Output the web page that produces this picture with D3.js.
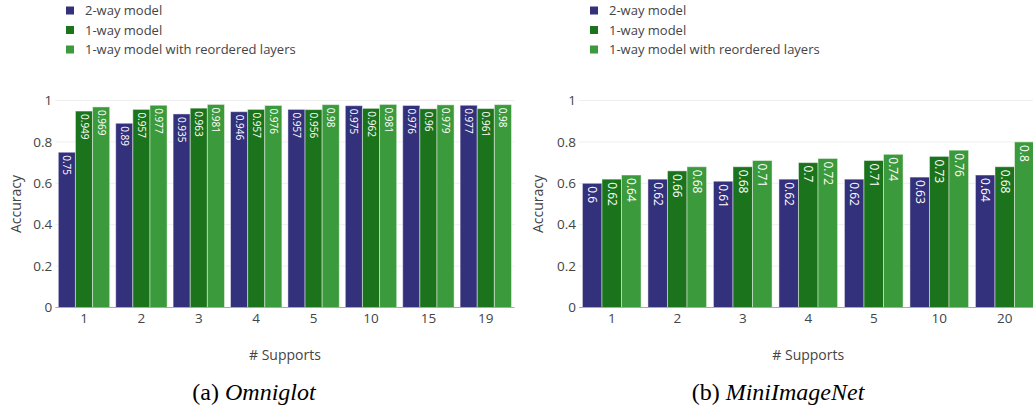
<!DOCTYPE html>
<html>
<head>
<meta charset="utf-8">
<script src="https://cdn.jsdelivr.net/npm/d3@7"></script>
<style>
  html, body { margin: 0; padding: 0; background: #fff; }
  svg { display: block; }
</style>
</head>
<body>
<svg id="chart" width="1033" height="406"></svg>
<script>
// Series names and colours
const seriesNames = ["2-way model", "1-way model", "1-way model with reordered layers"];
const seriesColors = ["#33307c", "#1b741b", "#3b9a3b"];

// Omniglot results
const omniSupports = ["1", "2", "3", "4", "5", "10", "15", "19"];
const omniTwoWay = [0.75, 0.89, 0.935, 0.946, 0.957, 0.975, 0.976, 0.977];
const omniOneWay = [0.949, 0.957, 0.963, 0.957, 0.956, 0.962, 0.96, 0.961];
const omniReordered = [0.969, 0.977, 0.981, 0.976, 0.98, 0.981, 0.979, 0.98];

// MiniImageNet results
const miniSupports = ["1", "2", "3", "4", "5", "10", "20"];
const miniTwoWay = [0.6, 0.62, 0.61, 0.62, 0.62, 0.63, 0.64];
const miniOneWay = [0.62, 0.66, 0.68, 0.7, 0.71, 0.73, 0.68];
const miniReordered = [0.64, 0.68, 0.71, 0.72, 0.74, 0.76, 0.8];

const yTicks = [0, 0.2, 0.4, 0.6, 0.8, 1];

const svg = d3.select("#chart");
const FONT = "'Open Sans', sans-serif";

function drawPanel(cfg) {
  const g = svg.append("g");
  const x = d3.scaleBand()
    .domain(cfg.categories)
    .range([cfg.x0, cfg.x1])
    .paddingInner(0.105)
    .paddingOuter(0.0525);
  const xs = d3.scaleBand().domain(d3.range(seriesNames.length)).range([0, x.bandwidth()]);
  const y = d3.scaleLinear().domain([0, 1]).range([307.5, 100.5]);

  // grid lines
  g.append("g").selectAll("line")
    .data(yTicks.filter(t => t > 0))
    .join("line")
    .attr("x1", cfg.x0).attr("x2", cfg.x1)
    .attr("y1", d => y(d)).attr("y2", d => y(d))
    .attr("stroke", "#eeeeee").attr("stroke-width", 1);

  // y tick labels
  g.append("g").selectAll("text")
    .data(yTicks)
    .join("text")
    .attr("x", cfg.x0 - 3)
    .attr("y", d => y(d))
    .attr("dy", "0.35em")
    .attr("text-anchor", "end")
    .attr("font-family", FONT).attr("font-size", 13.5).attr("fill", "#444")
    .text(d => d3.format("")(d));

  // bars
  const rows = [];
  cfg.series.forEach((vals, si) => {
    vals.forEach((v, ci) => rows.push({ cat: cfg.categories[ci], si, v }));
  });
  const bars = g.append("g").selectAll("g").data(rows).join("g")
    .attr("transform", d => `translate(${x(d.cat) + xs(d.si)},0)`);
  bars.append("rect")
    .attr("x", 0)
    .attr("y", d => y(d.v))
    .attr("width", xs.bandwidth())
    .attr("height", d => y(0) - y(d.v))
    .attr("fill", d => seriesColors[d.si])
    .attr("stroke", "rgba(255,255,255,0.45)")
    .attr("stroke-width", 1);
  bars.append("text")
    .attr("transform", d => `translate(${xs.bandwidth() / 2},${y(d.v) + 3}) rotate(90)`)
    .attr("dy", "0.35em")
    .attr("text-anchor", "start")
    .attr("font-family", FONT).attr("font-size", cfg.labelSize).attr("fill", "#fff")
    .text(d => d3.format("")(d.v));

  // x axis line
  g.append("line")
    .attr("x1", cfg.x0).attr("x2", cfg.x1)
    .attr("y1", y(0)).attr("y2", y(0))
    .attr("stroke", "#aaaaaa").attr("stroke-width", 1);

  // x tick labels
  g.append("g").selectAll("text")
    .data(cfg.categories)
    .join("text")
    .attr("x", d => x(d) + x.bandwidth() / 2)
    .attr("y", 323)
    .attr("text-anchor", "middle")
    .attr("font-family", FONT).attr("font-size", 13.5).attr("fill", "#444")
    .text(d => d);

  // axis titles
  g.append("text")
    .attr("x", (cfg.x0 + cfg.x1) / 2).attr("y", 360)
    .attr("text-anchor", "middle")
    .attr("font-family", FONT).attr("font-size", 14).attr("fill", "#444")
    .text("# Supports");
  g.append("text")
    .attr("transform", `translate(${cfg.yTitleX},204) rotate(-90)`)
    .attr("dy", "0.35em")
    .attr("text-anchor", "middle")
    .attr("font-family", FONT).attr("font-size", 14).attr("fill", "#444")
    .text("Accuracy");

  // legend
  const lg = g.append("g").selectAll("g").data(seriesNames).join("g")
    .attr("transform", (d, i) => `translate(${cfg.legendX},${10.5 + i * 19.5})`);
  lg.append("rect")
    .attr("x", 0).attr("y", -4).attr("width", 8).attr("height", 8)
    .attr("fill", (d, i) => seriesColors[i]);
  lg.append("text")
    .attr("x", 19).attr("dy", "0.35em")
    .attr("font-family", FONT).attr("font-size", 13).attr("fill", "#444")
    .text(d => d);

  // caption
  const cap = g.append("text")
    .attr("x", cfg.captionX).attr("y", 400)
    .attr("text-anchor", "middle")
    .attr("font-family", "'Liberation Serif', 'Times New Roman', serif")
    .attr("font-size", 24).attr("fill", "#000");
  cap.append("tspan").text(cfg.captionPrefix);
  cap.append("tspan").attr("font-style", "italic").text(cfg.captionName);
}

drawPanel({
  categories: omniSupports,
  series: [omniTwoWay, omniOneWay, omniReordered],
  x0: 55.3, x1: 514.5,
  labelSize: 10,
  yTitleX: 16,
  legendX: 66,
  captionX: 254,
  captionPrefix: "(a) ",
  captionName: "Omniglot"
});

drawPanel({
  categories: miniSupports,
  series: [miniTwoWay, miniOneWay, miniReordered],
  x0: 579, x1: 1037.5,
  labelSize: 12,
  yTitleX: 538,
  legendX: 590,
  captionX: 778,
  captionPrefix: "(b) ",
  captionName: "MiniImageNet"
});
</script>
</body>
</html>
